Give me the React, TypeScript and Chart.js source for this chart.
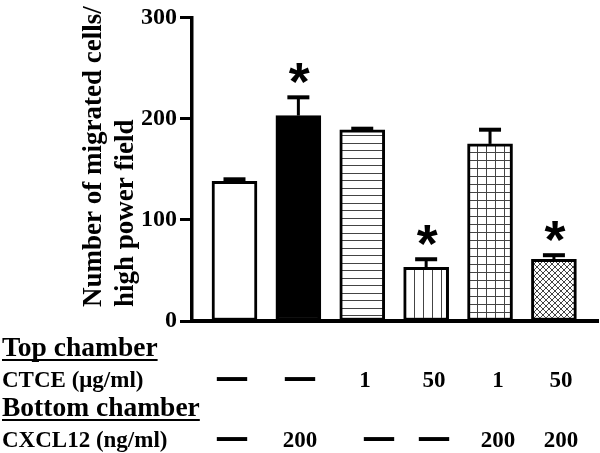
import { useEffect, useRef } from 'react';
import { Chart, registerables } from 'chart.js';

Chart.register(...registerables);

// ---- data ----
const CATEGORIES = ['Control', 'CXCL12', 'CTCE 1', 'CTCE 50', 'CTCE 1 + CXCL12', 'CTCE 50 + CXCL12'];
const MIGRATED = [138, 203, 189, 53, 175, 61];
const SEM = [4, 20, 3, 10, 16, 6];
const SIGNIFICANT = [false, true, false, true, false, true];
const Y_TICKS = [0, 100, 200, 300];
const Y_TITLE = ['Number of migrated cells/', 'high power field'];
const TOP_HEADER = 'Top chamber';
const CTCE_LABEL = 'CTCE (\u03bcg/ml)';
const CTCE_ROW = ['\u2014', '\u2014', '1', '50', '1', '50'];
const BOTTOM_HEADER = 'Bottom chamber';
const CXCL12_LABEL = 'CXCL12 (ng/ml)';
const CXCL12_ROW = ['\u2014', '200', '\u2014', '\u2014', '200', '200'];

// ---- layout (not data) ----
const SERIF = "'Liberation Serif', 'Times New Roman', serif";
const TABLE_COL_X = [232, 300, 365, 434, 498, 561];

function makePattern(main: CanvasRenderingContext2D, w: number, h: number, draw: (g: CanvasRenderingContext2D) => void) {
  const c = document.createElement('canvas');
  c.width = w;
  c.height = h;
  const g = c.getContext('2d')!;
  g.fillStyle = '#fff';
  g.fillRect(0, 0, w, h);
  g.fillStyle = '#444';
  g.strokeStyle = '#444';
  g.lineWidth = 1;
  draw(g);
  return main.createPattern(c, 'repeat')!;
}

const overlayPlugin = {
  id: 'overlay',
  afterDatasetsDraw(chart: any) {
    const { ctx, scales } = chart;
    const xs = scales.x;
    const ys = scales.y;
    ctx.save();
    ctx.strokeStyle = '#000';
    ctx.fillStyle = '#000';
    ctx.lineCap = 'butt';
    MIGRATED.forEach((v, i) => {
      const px = xs.getPixelForValue(i);
      const top = ys.getPixelForValue(v);
      const err = ys.getPixelForValue(v + SEM[i]);
      ctx.lineWidth = 3;
      ctx.beginPath();
      ctx.moveTo(px, top);
      ctx.lineTo(px, err + 2);
      ctx.stroke();
      ctx.lineWidth = 4;
      ctx.beginPath();
      ctx.moveTo(px - 11, err + 2);
      ctx.lineTo(px + 11, err + 2);
      ctx.stroke();
      if (SIGNIFICANT[i]) {
        ctx.font = "bold 100px 'Liberation Sans', Arial, sans-serif";
        const m0 = ctx.measureText('*');
        const w0 = m0.actualBoundingBoxRight + m0.actualBoundingBoxLeft;
        const size = (100 * 21) / w0;
        ctx.font = `bold ${size}px 'Liberation Sans', Arial, sans-serif`;
        const m = ctx.measureText('*');
        const cx = px + 1;
        const cy = err - 22;
        ctx.textAlign = 'left';
        ctx.textBaseline = 'alphabetic';
        const bx = cx - (m.actualBoundingBoxRight - m.actualBoundingBoxLeft) / 2;
        const by = cy + (m.actualBoundingBoxAscent - m.actualBoundingBoxDescent) / 2;
        ctx.fillText('*', bx, by);
      }
    });
    ctx.restore();
  },
  afterDraw(chart: any) {
    const { ctx } = chart;
    ctx.save();
    ctx.fillStyle = '#000';
    ctx.strokeStyle = '#000';

    // y-axis title
    ctx.save();
    ctx.translate(101, 307);
    ctx.rotate(-Math.PI / 2);
    ctx.font = `bold 27px ${SERIF}`;
    ctx.textAlign = 'left';
    ctx.textBaseline = 'alphabetic';
    Y_TITLE.forEach((line, k) => ctx.fillText(line, 0, k * 32));
    ctx.restore();

    // headers
    const header = (text: string, baseline: number, underlineY: number) => {
      ctx.font = `bold 27.5px ${SERIF}`;
      ctx.textAlign = 'left';
      ctx.textBaseline = 'alphabetic';
      ctx.fillText(text, 2, baseline);
      const w = ctx.measureText(text).width;
      ctx.fillRect(2, underlineY, w, 2);
    };
    header(TOP_HEADER, 356, 359);
    header(BOTTOM_HEADER, 416, 419);

    const row = (label: string, values: string[], baseline: number, dashY: number) => {
      ctx.font = `bold 23px ${SERIF}`;
      ctx.textAlign = 'left';
      ctx.textBaseline = 'alphabetic';
      ctx.fillText(label, 2, baseline);
      values.forEach((v, i) => {
        const cx = TABLE_COL_X[i];
        if (v === '\u2014') {
          ctx.font = `bold 28px ${SERIF}`;
          const m = ctx.measureText(v);
          const bx = cx - (m.actualBoundingBoxRight - m.actualBoundingBoxLeft) / 2;
          const by = dashY + (m.actualBoundingBoxAscent - m.actualBoundingBoxDescent) / 2;
          ctx.textAlign = 'left';
          ctx.lineWidth = 2;
          ctx.fillText(v, bx, by);
          ctx.strokeText(v, bx, by);
        } else {
          ctx.font = `bold 23px ${SERIF}`;
          ctx.textAlign = 'center';
          ctx.fillText(v, cx, baseline);
        }
      });
    };
    row(CTCE_LABEL, CTCE_ROW, 387, 378.5);
    row(CXCL12_LABEL, CXCL12_ROW, 447, 439);
    ctx.restore();
  },
};

export default function App() {
  const ref = useRef<HTMLCanvasElement>(null);
  useEffect(() => {
    document.body.style.margin = '0';
    document.body.style.background = '#fff';
    const canvas = ref.current!;
    const ctx = canvas.getContext('2d')!;
    const horiz = makePattern(ctx, 4, 15, (g) => {
      g.fillRect(0, 0, 4, 1);
      g.fillRect(0, 8, 4, 1);
    });
    const vert = makePattern(ctx, 9, 4, (g) => {
      g.fillRect(0, 0, 1, 4);
    });
    const grid = makePattern(ctx, 9, 8, (g) => {
      g.fillRect(0, 0, 1, 8);
      g.fillRect(0, 0, 9, 1);
    });
    const cross = makePattern(ctx, 6, 6, (g) => {
      g.beginPath();
      g.moveTo(0, 0);
      g.lineTo(6, 6);
      g.moveTo(6, 0);
      g.lineTo(0, 6);
      g.stroke();
    });
    const fills = ['#fff', '#000', horiz, vert, grid, cross];

    const chart = new Chart(ctx, {
      type: 'bar',
      data: {
        labels: CATEGORIES,
        datasets: [
          {
            label: 'Migrated cells',
            data: MIGRATED.map((v, i) => ({ x: i, y: v })) as any,
            backgroundColor: fills as any,
            borderColor: '#000',
            borderWidth: 3,
            borderSkipped: false,
            barThickness: 45,
          },
        ],
      },
      options: {
        responsive: false,
        animation: false,
        devicePixelRatio: 1,
        layout: { padding: { left: 0, right: 2, top: 16, bottom: 132 } },
        plugins: { legend: { display: false }, tooltip: { enabled: false } },
        scales: {
          x: {
            type: 'linear',
            min: -0.665,
            max: 5.69,
            offset: false,
            grid: { display: false },
            ticks: { display: false },
            border: { display: true, color: '#000', width: 4 },
            afterFit: (s: any) => {
              s.height = 0;
            },
          },
          y: {
            min: 0,
            max: 300,
            afterBuildTicks: (s: any) => {
              s.ticks = Y_TICKS.map((v) => ({ value: v }));
            },
            ticks: {
              color: '#000',
              padding: 3,
              font: { family: SERIF, size: 24, weight: 'bold' },
            },
            grid: {
              display: true,
              drawOnChartArea: false,
              drawTicks: true,
              tickLength: 12,
              tickWidth: 3,
              tickColor: '#000',
            },
            border: { display: true, color: '#000', width: 3.5 },
            afterFit: (s: any) => {
              s.width = 192;
            },
          },
        },
      } as any,
      plugins: [overlayPlugin],
    });
    return () => chart.destroy();
  }, []);
  return (
    <div style={{ width: 600, height: 453, background: '#fff' }}>
      <canvas ref={ref} width={600} height={453} style={{ display: 'block', width: 600, height: 453 }} />
    </div>
  );
}
